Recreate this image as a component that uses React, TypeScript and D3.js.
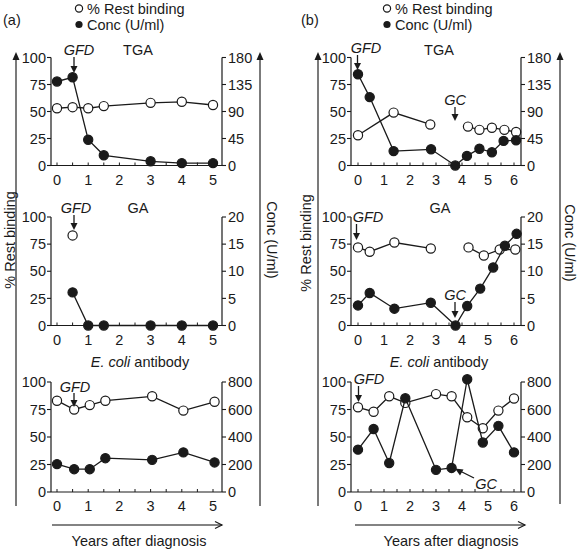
import React from "react";
import * as d3 from "d3";

// ---------- DATA ----------
// Panel (a)
const aTgaX = [0, 0.5, 1, 1.5, 3, 4, 5];
const aTgaRest = [53, 54, 53, 55, 58, 59, 56];
const aTgaConc = [140, 147, 43, 17, 7, 4, 4];

const aGaRestX = [0.5];
const aGaRest = [83];
const aGaConcX = [0.5, 1, 1.5, 3, 4, 5];
const aGaConc = [6.1, 0, 0, 0, 0, 0];

const aEcoliX = [0, 0.55, 1.05, 1.55, 3.05, 4.05, 5.05];
const aEcoliRest = [83, 75, 79, 83, 87, 74, 82];
const aEcoliConc = [203, 166, 166, 246, 234, 288, 215];

// Panel (b)
const bTgaRestX = [0, 1.37, 2.78, 4.23, 4.67, 5.15, 5.63, 6.08];
const bTgaRest = [28, 49, 38, 36, 33, 35, 33, 31];
const bTgaRestSeg = [0, 0, 0, 1, 1, 1, 1, 1];
const bTgaConcX = [0, 0.45, 1.37, 2.81, 3.74, 4.19, 4.67, 5.15, 5.6, 6.08];
const bTgaConc = [152, 114, 24, 27, 0, 16, 28, 22, 41, 42];

const bGaRestX = [0, 0.45, 1.4, 2.8, 4.25, 4.84, 5.45, 6.05];
const bGaRest = [72, 68, 76.5, 71, 72, 64.5, 70, 70];
const bGaRestSeg = [0, 0, 0, 0, 1, 1, 1, 1];
const bGaConcX = [0, 0.45, 1.4, 2.8, 3.75, 4.2, 4.7, 5.2, 5.65, 6.1];
const bGaConc = [3.7, 6.0, 3.1, 4.2, 0, 3.6, 6.8, 10.7, 14.7, 16.9];

const bEcoliX = [0, 0.6, 1.2, 1.82, 3.0, 3.6, 4.2, 4.8, 5.4, 6.0];
const bEcoliRest = [77, 73, 87, 81, 89, 87, 68, 58, 74, 85];
const bEcoliConc = [308, 458, 211, 682, 161, 175, 820, 360, 481, 288];

const restTicks = [0, 25, 50, 75, 100];
const tgaConcTicks = [0, 45, 90, 135, 180];
const gaConcTicks = [0, 5, 10, 15, 20];
const ecoliConcTicks = [0, 200, 400, 600, 800];
const aYearTicks = [0, 1, 2, 3, 4, 5];
const bYearTicks = [0, 1, 2, 3, 4, 5, 6];

const legendLabels = ["% Rest binding", "Conc (U/ml)"];
const subTitles = ["TGA", "GA", "E. coli antibody"];

// ---------- STYLE ----------
const FONT = "'Liberation Sans', Arial, Helvetica, sans-serif";
const FS = 14.5;
const INK = "#1a1a1a";
const GREY = "#5a5a5a";
const R = 4.6;

type Pt = { x: number; y: number; seg: number };
const pts = (xs: number[], ys: number[], seg?: number[]): Pt[] =>
  xs.map((x, i) => ({ x, y: ys[i], seg: seg ? seg[i] : 0 }));

function Series({ data, xs, ys, filled }: { data: Pt[]; xs: any; ys: any; filled: boolean }) {
  const line = d3.line<Pt>().x((d) => xs(d.x)).y((d) => ys(d.y));
  const groups = d3.groups(data, (d) => d.seg);
  return (
    <g>
      {groups.map(([k, g]) => (
        <path key={k} d={line(g) || ""} fill="none" stroke={INK} strokeWidth={1.3} />
      ))}
      {data.map((d, i) => (
        <circle key={i} cx={xs(d.x)} cy={ys(d.y)} r={R} fill={filled ? INK : "#fff"} stroke={INK} strokeWidth={1.2} />
      ))}
    </g>
  );
}

function DownArrow({ x, y1, y2 }: { x: number; y1: number; y2: number }) {
  return (
    <g>
      <line x1={x} x2={x} y1={y1} y2={y2 - 5} stroke={INK} strokeWidth={1.3} />
      <path d={`M${x - 3.5},${y2 - 7} L${x + 3.5},${y2 - 7} L${x},${y2} Z`} fill={INK} />
    </g>
  );
}

type PanelProps = {
  left: number;
  right: number;
  xMax: number;
  x0: number;
  x1: number;
  top: number;
  bottom: number;
  concMax: number;
  concTicks: number[];
  yearTicks: number[];
  rest: Pt[];
  conc: Pt[];
  children?: any;
};

function Panel(p: PanelProps) {
  const xs = d3.scaleLinear().domain([0, p.xMax]).range([p.x0, p.x1]);
  const yr = d3.scaleLinear().domain([0, 100]).range([p.bottom, p.top]);
  const yc = d3.scaleLinear().domain([0, p.concMax]).range([p.bottom, p.top]);
  const minor = d3.range(0, p.xMax + 0.01, 0.5);
  return (
    <g>
      {/* axes */}
      <line x1={p.left} x2={p.left} y1={p.top} y2={p.bottom} stroke={INK} strokeWidth={1.2} />
      <line x1={p.right} x2={p.right} y1={p.top} y2={p.bottom} stroke={INK} strokeWidth={1.2} />
      <line x1={p.left} x2={p.right} y1={p.bottom} y2={p.bottom} stroke={INK} strokeWidth={1.2} />
      {restTicks.map((t) => (
        <g key={"l" + t}>
          <line x1={p.left - 4} x2={p.left} y1={yr(t)} y2={yr(t)} stroke={INK} strokeWidth={1.1} />
          <text x={p.left - 5} y={yr(t)} dy="0.36em" textAnchor="end" fontSize={FS} fontFamily={FONT} fill={INK}>
            {t}
          </text>
        </g>
      ))}
      {p.concTicks.map((t) => (
        <g key={"r" + t}>
          <line x1={p.right} x2={p.right + 4} y1={yc(t)} y2={yc(t)} stroke={INK} strokeWidth={1.1} />
          <text x={p.right + 6} y={yc(t)} dy="0.36em" textAnchor="start" fontSize={FS} fontFamily={FONT} fill={INK}>
            {t}
          </text>
        </g>
      ))}
      {minor.map((t) => (
        <line key={"m" + t} x1={xs(t)} x2={xs(t)} y1={p.bottom} y2={p.bottom - 3} stroke={INK} strokeWidth={1} />
      ))}
      {p.yearTicks.map((t) => (
        <text key={"x" + t} x={xs(t)} y={p.bottom + 19} textAnchor="middle" fontSize={FS} fontFamily={FONT} fill={INK}>
          {t}
        </text>
      ))}
      <Series data={p.rest} xs={xs} ys={yr} filled={false} />
      <Series data={p.conc} xs={xs} ys={yc} filled={true} />
      {p.children}
    </g>
  );
}

function UpArrow({ x, y1, y2 }: { x: number; y1: number; y2: number }) {
  return (
    <g>
      <line x1={x} x2={x} y1={y1} y2={y2 + 6} stroke={GREY} strokeWidth={1.6} />
      <path d={`M${x - 3.5},${y2 + 8} L${x + 3.5},${y2 + 8} L${x},${y2} Z`} fill={INK} />
    </g>
  );
}

function RightArrow({ x1, x2, y }: { x1: number; x2: number; y: number }) {
  return (
    <g>
      <line x1={x1} x2={x2} y1={y} y2={y} stroke={GREY} strokeWidth={1.5} />
      <path d={`M${x2 - 7},${y - 3.5} L${x2},${y} L${x2 - 7},${y + 3.5}`} fill="none" stroke={INK} strokeWidth={1.2} />
    </g>
  );
}

function Legend({ x }: { x: number }) {
  return (
    <g fontFamily={FONT} fontSize={FS} fill={INK}>
      <circle cx={x} cy={8.5} r={3.6} fill="#fff" stroke={INK} strokeWidth={1.2} />
      <text x={x + 8} y={13.5}>{legendLabels[0]}</text>
      <circle cx={x} cy={24.5} r={3.6} fill={INK} />
      <text x={x + 8} y={29.5}>{legendLabels[1]}</text>
    </g>
  );
}

function Txt({ x, y, children, italic, anchor }: any) {
  return (
    <text x={x} y={y} textAnchor={anchor || "middle"} fontSize={FS} fontFamily={FONT} fill={INK} fontStyle={italic ? "italic" : "normal"}>
      {children}
    </text>
  );
}

function EcoliTitle({ x, y }: { x: number; y: number }) {
  return (
    <text x={x} y={y} textAnchor="middle" fontSize={FS} fontFamily={FONT} fill={INK}>
      <tspan fontStyle="italic">E. coli</tspan>
      <tspan> antibody</tspan>
    </text>
  );
}

const TOPS = [
  { top: 57.5, bottom: 165.5 },
  { top: 217, bottom: 325.5 },
  { top: 382, bottom: 492 },
];

export default function App() {
  const A = { left: 51, right: 222, xMax: 5, x0: 57, x1: 213, yearTicks: aYearTicks };
  const B = { left: 351, right: 521, xMax: 6, x0: 358, x1: 514, yearTicks: bYearTicks };
  return (
    <svg width={577} height={550} style={{ position: "fixed", left: 0, top: 0, background: "#fff" }}>
      <rect width={577} height={550} fill="#fff" />
      {/* ---------- panel (a) ---------- */}
      <Txt x={3} y={25} anchor="start">(a)</Txt>
      <Legend x={79} />
      <UpArrow x={16} y1={506} y2={52} />
      <UpArrow x={260} y1={506} y2={52} />
      <text transform="translate(15,240) rotate(-90)" textAnchor="middle" fontSize={FS} fontFamily={FONT} fill={INK}>
        {legendLabels[0]}
      </text>
      <text transform="translate(267,240) rotate(90)" textAnchor="middle" fontSize={FS} fontFamily={FONT} fill={INK}>
        {legendLabels[1]}
      </text>

      <Panel {...A} {...TOPS[0]} concMax={180} concTicks={tgaConcTicks} rest={pts(aTgaX, aTgaRest)} conc={pts(aTgaX, aTgaConc)}>
        <Txt x={138} y={55}>{subTitles[0]}</Txt>
        <Txt x={79} y={55} italic>GFD</Txt>
        <DownArrow x={74} y1={57} y2={73} />
      </Panel>
      <Panel {...A} {...TOPS[1]} concMax={20} concTicks={gaConcTicks} rest={pts(aGaRestX, aGaRest)} conc={pts(aGaConcX, aGaConc)}>
        <Txt x={138} y={213}>{subTitles[1]}</Txt>
        <Txt x={76} y={213} italic>GFD</Txt>
        <DownArrow x={74} y1={215} y2={230} />
      </Panel>
      <EcoliTitle x={140} y={367} />
      <Panel {...A} {...TOPS[2]} concMax={800} concTicks={ecoliConcTicks} rest={pts(aEcoliX, aEcoliRest)} conc={pts(aEcoliX, aEcoliConc)}>
        <Txt x={75} y={392} italic>GFD</Txt>
        <DownArrow x={74} y1={393} y2={407} />
      </Panel>
      <RightArrow x1={52} x2={222} y={525} />
      <Txt x={139} y={546}>Years after diagnosis</Txt>

      {/* ---------- panel (b) ---------- */}
      <Txt x={301} y={25} anchor="start">(b)</Txt>
      <Legend x={387} />
      <UpArrow x={318} y1={506} y2={52} />
      <UpArrow x={560} y1={504} y2={52} />
      <text transform="translate(311,243) rotate(-90)" textAnchor="middle" fontSize={FS} fontFamily={FONT} fill={INK}>
        {legendLabels[0]}
      </text>
      <text transform="translate(565,243) rotate(90)" textAnchor="middle" fontSize={FS} fontFamily={FONT} fill={INK}>
        {legendLabels[1]}
      </text>

      <Panel {...B} {...TOPS[0]} concMax={180} concTicks={tgaConcTicks} rest={pts(bTgaRestX, bTgaRest, bTgaRestSeg)} conc={pts(bTgaConcX, bTgaConc)}>
        <Txt x={439} y={55}>{subTitles[0]}</Txt>
        <Txt x={366} y={53} italic>GFD</Txt>
        <DownArrow x={357.5} y1={55} y2={70} />
        <Txt x={455} y={105} italic>GC</Txt>
        <DownArrow x={455} y1={107} y2={121} />
      </Panel>
      <Panel {...B} {...TOPS[1]} concMax={20} concTicks={gaConcTicks} rest={pts(bGaRestX, bGaRest, bGaRestSeg)} conc={pts(bGaConcX, bGaConc)}>
        <Txt x={440} y={213}>{subTitles[1]}</Txt>
        <Txt x={368} y={222} italic>GFD</Txt>
        <DownArrow x={356.5} y1={224} y2={240} />
        <Txt x={455} y={300} italic>GC</Txt>
        <DownArrow x={455} y1={302} y2={318} />
      </Panel>
      <EcoliTitle x={439} y={367} />
      <Panel {...B} {...TOPS[2]} concMax={800} concTicks={ecoliConcTicks} rest={pts(bEcoliX, bEcoliRest)} conc={pts(bEcoliX, bEcoliConc)}>
        <Txt x={369} y={384} italic>GFD</Txt>
        <DownArrow x={358.5} y1={386} y2={402} />
        <Txt x={486} y={489} italic>GC</Txt>
        <line x1={474} y1={478} x2={459} y2={470.5} stroke={INK} strokeWidth={1.3} />
        <path d="M455,468.5 L463.5,469.5 L460,475.5 Z" fill={INK} />
      </Panel>
      <RightArrow x1={355} x2={525} y={525} />
      <Txt x={451} y={546}>Years after diagnosis</Txt>
    </svg>
  );
}
